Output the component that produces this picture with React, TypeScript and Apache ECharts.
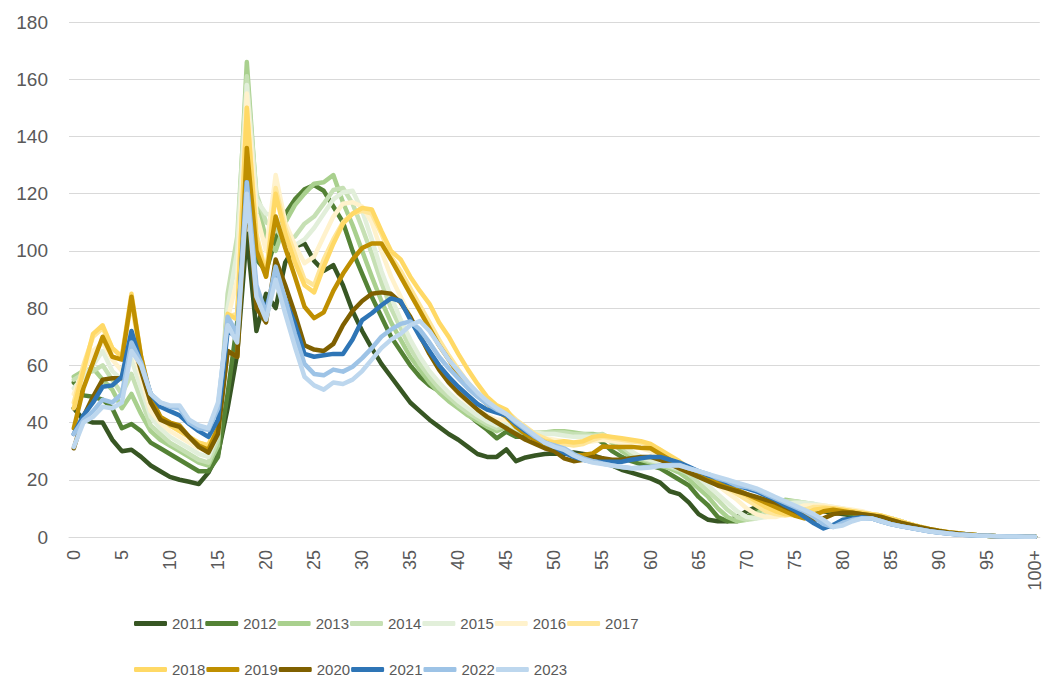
import React, { useEffect, useRef } from "react";
import * as echarts from "echarts";

const ages: string[] = [];
for (let i = 0; i < 100; i++) ages.push(String(i));
ages.push("100+");

const years = ["2011", "2012", "2013", "2014", "2015", "2016", "2017", "2018", "2019", "2020", "2021", "2022", "2023"];
const colors = ["#375623", "#548235", "#A9D08E", "#C6E0B4", "#E2EFDA", "#FFF2CC", "#FFE699", "#FFD966", "#BF8F00", "#7F6000", "#2E75B6", "#9DC3E6", "#BDD7EE"];

const yTicks = [0, 20, 40, 60, 80, 100, 120, 140, 160, 180];

const s2011 = [
  45, 41, 40, 40, 34, 30, 30.5, 28, 25, 23,
  21, 20, 19.3, 18.5, 22.5, 29, 45, 64, 106, 72,
  85, 80, 96, 101.5, 102.6, 96.5, 93, 95, 88, 79,
  72, 66, 60.5, 56, 51.5, 47, 44, 41, 38.5, 36,
  34, 31.5, 29, 28, 28, 30.6, 26.5, 27.8, 28.5, 29,
  29.2, 29, 29.5, 29, 28.5, 27.5, 25, 23.5, 22.5, 21.5,
  20.5, 19, 16, 15, 12, 8, 6, 5.5, 5.5, 7,
  9, 10.5, 11, 11, 10.5, 10.5, 10, 9.5, 9, 8.5,
  8, 7.5, 7.5, 7.2, 6.8, 6, 5, 4, 3.2, 2.5,
  2, 1.5, 1.1, 0.8, 0.6, 0.4, 0.3, 0.2, 0.15, 0.1, 0.1,
];
const s2012 = [
  54, 49.5, 49, 48, 45, 38, 39.5, 37, 33, 31,
  29, 27, 25, 23, 23, 28, 50, 75, 145, 97,
  93, 104, 113, 118, 121.5, 123, 121, 115.5, 110, 100,
  92, 84, 77, 70, 65, 60, 56, 53, 51, 48,
  45.5, 43, 40, 37.5, 34.5, 36.8, 35, 35, 35.5, 36,
  36.5, 36.5, 36, 35.5, 35, 33, 30, 28, 26.5, 25.5,
  25, 24, 22, 20, 18, 14, 11, 7, 5.5, 5.5,
  7, 9, 11, 12, 12, 11.5, 11, 10, 9.5, 9,
  8.5, 8, 7.5, 7.5, 7, 6.5, 5.5, 4.5, 3.5, 2.8,
  2.2, 1.6, 1.2, 0.9, 0.6, 0.4, 0.3, 0.2, 0.15, 0.1, 0.1,
];
const s2013 = [
  56, 58, 59, 55, 51.5, 45, 50, 43, 37, 34,
  32, 30, 28, 26, 25, 32, 82, 100, 166, 118,
  104, 100, 110, 116, 120, 123.5, 124, 126.5, 117, 109,
  100, 91, 82.5, 75, 69, 63, 58.5, 54, 50.5, 47.5,
  45, 42.5, 40.5, 38.5, 37, 38.5, 37, 36.5, 36, 36.5,
  37, 37, 36.5, 36, 36, 35.5, 33, 30, 28, 27,
  26, 25, 24, 22.5, 20, 17, 14, 10, 7, 5.5,
  6, 8, 10.5, 12, 13, 12.5, 12, 11, 10, 9.5,
  9, 8.5, 8, 7.5, 7, 6.5, 5.5, 4.5, 3.6, 2.8,
  2.2, 1.7, 1.3, 0.9, 0.6, 0.4, 0.3, 0.2, 0.15, 0.1, 0.1,
];
const s2014 = [
  55, 57, 58, 60, 55, 50, 57, 48, 39, 36,
  33, 31, 29, 27, 26, 34, 85, 105, 161, 120,
  110, 108, 103, 105, 109.5, 112, 116.5, 121.3, 122, 116.5,
  108, 99, 89, 80, 73, 66, 60.5, 56, 52, 49,
  46, 43.5, 41.5, 39.5, 38, 39, 37.5, 37, 36.5, 36.5,
  36.5, 36.5, 36, 36, 35.5, 36, 34, 31.5, 29, 27.5,
  26.5, 25.5, 24.5, 23.5, 22, 19, 16, 13, 9.5, 7,
  6, 6.5, 8.5, 11, 12.5, 12.5, 12, 11.5, 10.5, 10,
  9.5, 9, 8.5, 8, 7.5, 6.5, 5.5, 4.5, 3.6, 2.8,
  2.2, 1.7, 1.3, 0.9, 0.6, 0.4, 0.3, 0.2, 0.15, 0.1, 0.1,
];
const s2015 = [
  52, 56, 60, 65, 58, 55, 62, 52, 42, 38,
  35, 33, 31, 29, 28, 36, 80, 100, 158, 118,
  113, 112, 104, 102, 104, 108, 113, 118, 120.5, 121,
  114, 104, 93, 84, 76, 69, 63, 58, 54, 50.5,
  47.5, 45, 42.5, 40.5, 39, 40, 38, 37, 36.5, 36,
  36, 35.5, 35, 35, 35, 35.5, 34.5, 32.5, 30, 28,
  27, 26, 25, 24, 23, 21, 18, 15, 12, 9,
  7, 6.5, 7, 9, 11.5, 12, 12, 11.5, 11, 10.5,
  10, 9, 8.5, 8, 7.5, 6.5, 5.5, 4.5, 3.6, 2.8,
  2.2, 1.7, 1.3, 0.9, 0.6, 0.4, 0.3, 0.2, 0.15, 0.1, 0.1,
];
const s2016 = [
  50, 58, 65, 68, 62, 58, 68, 56, 44, 40,
  37, 35, 33, 31, 30, 38, 76, 90, 155, 113,
  100, 126.5, 110, 102, 95.7, 98, 105, 112, 116.5, 117,
  115.5, 110, 100, 91, 84, 77, 70, 64, 58.5, 54,
  50, 47, 44.5, 42.5, 41, 41, 39, 37, 35.5, 34.5,
  34, 33.5, 33, 33, 33.5, 34, 33.5, 33, 32, 31,
  30, 28, 26.5, 25, 23.5, 22, 20, 18, 15.5, 13,
  10, 8, 7, 7, 8, 10, 11, 11, 11, 10.5,
  10, 9.5, 9, 8, 7.5, 6.5, 5.5, 4.5, 3.6, 2.8,
  2.2, 1.7, 1.3, 0.9, 0.6, 0.4, 0.3, 0.2, 0.15, 0.1, 0.1,
];
const s2017 = [
  47, 60, 70, 73, 66, 63, 82, 62, 47, 42,
  39, 37, 35, 33, 32, 40, 77, 78, 150, 106,
  92, 122, 108, 99, 90, 88, 97, 104, 110, 113,
  114, 113, 106, 98, 93, 87, 81, 75, 69, 63.5,
  58.5, 54, 50, 47, 45, 44, 41, 38.5, 36, 34.5,
  33, 32.5, 32, 32.5, 34, 35, 34.5, 34, 33.5, 33,
  32, 30.5, 28, 26, 24, 22, 20.5, 19, 17, 15,
  13, 11, 9, 8, 7.5, 8, 9.5, 10.5, 10.5, 10,
  9.5, 9, 8.5, 8, 7.5, 6.5, 5.5, 4.5, 3.6, 2.8,
  2.2, 1.7, 1.3, 0.9, 0.6, 0.4, 0.3, 0.2, 0.15, 0.1, 0.1,
];
const s2018 = [
  45, 58, 71, 74, 66, 63, 85, 63, 48, 42,
  39, 37, 35, 33, 32, 40, 78, 76, 150, 104,
  91, 120, 106, 96, 88, 85.5, 94.5, 102.5, 109.5, 113,
  115, 114.5, 107, 100, 97, 91, 86, 81.5, 75, 70,
  64, 58.5, 53.5, 49, 46, 44.5, 40, 37.5, 35, 33.5,
  33, 33.5, 33, 33.5, 35, 35.5, 35, 34.5, 34, 33.5,
  32.5, 30.5, 28.5, 26.5, 24, 22, 21, 19.5, 18, 16,
  14.5, 12.5, 10.5, 9, 8, 7.5, 8, 9.5, 10, 10,
  9.5, 9, 8.5, 8, 7.5, 6.5, 5.5, 4.5, 3.6, 2.8,
  2.2, 1.7, 1.3, 0.9, 0.6, 0.4, 0.3, 0.2, 0.15, 0.1, 0.1,
];
const s2019 = [
  38, 52, 61, 70, 63, 62, 84, 63, 49, 42,
  40, 39, 35, 32, 30.5, 38, 65, 63, 136, 100,
  91, 112, 101, 91, 80.5, 76.5, 78.5, 86, 92, 97,
  101, 102.6, 102.6, 97, 91, 85, 79, 73, 67, 62,
  57, 53, 49.5, 46.5, 44, 42, 38.5, 36, 34, 32,
  31, 29.8, 28.5, 28.7, 29.2, 31.6, 31.5, 31.5, 31.5, 31.2,
  31, 29, 27, 25, 23, 21.5, 20, 19, 17.5, 16.5,
  15, 13.5, 12, 10.5, 9, 7.5, 6.5, 7.5, 9, 9.5,
  9, 8.5, 8, 7.5, 7, 6, 5, 4.2, 3.4, 2.7,
  2.1, 1.6, 1.2, 0.9, 0.6, 0.4, 0.3, 0.2, 0.15, 0.1, 0.1,
];
const s2020 = [
  31, 42, 49, 55, 55.5, 55.5, 70, 58, 47, 41,
  39.5, 38.5, 35, 31.5, 29.5, 36, 65, 63, 120, 80,
  75, 97, 88, 78, 67, 65.5, 65, 67.5, 74, 79,
  82.5, 85, 85.5, 85, 82, 77, 70.5, 64, 58.5, 54,
  50.5, 47.5, 44.5, 42, 40, 38, 36, 34, 32.5, 31,
  30, 27.5, 26.5, 27, 28, 27.5, 27, 27, 27.5, 28,
  28, 27, 25.5, 24, 22.5, 21, 19.5, 18, 17, 16,
  15, 14, 13, 12, 10.5, 9, 7.5, 6, 6.5, 8,
  8.5, 8.5, 8, 7.5, 7, 6, 5, 4.2, 3.4, 2.7,
  2.1, 1.6, 1.2, 0.9, 0.6, 0.4, 0.3, 0.2, 0.15, 0.1, 0.1,
];
const s2021 = [
  36, 42.5, 47, 52.5, 53, 56, 72, 60.5, 50, 45.5,
  44, 42.5, 39.5, 37, 35, 41, 72, 70, 124, 85,
  80, 91, 83, 74.5, 64, 63, 63.5, 64, 64, 69,
  75.8, 78.2, 81, 83.4, 82.5, 76, 70, 65, 60, 56,
  52.5, 49.5, 46.5, 44.5, 43.5, 42.5, 39.5, 37, 35, 33,
  31.5, 29.5, 28, 27, 26.3, 26.3, 26.3, 26.3, 27, 27.5,
  28, 28, 27, 26, 24.5, 23, 21.5, 20.5, 19, 18,
  17, 16, 14.5, 13, 11, 9.4, 7, 4.8, 3, 4.2,
  6, 6.5, 6.9, 6.5, 5.5, 4.5, 3.8, 3.2, 2.6, 2,
  1.6, 1.2, 0.9, 0.7, 0.5, 0.4, 0.3, 0.2, 0.15, 0.1, 0.1,
];
const s2022 = [
  36, 41, 44, 48, 47, 50, 68, 61, 50, 47,
  45.5, 45, 40, 38, 37.5, 45, 77, 71, 124, 88,
  78, 94.5, 83, 71, 60.5, 57, 56.5, 58.5, 57.8, 59.5,
  62.5, 66, 70, 72.5, 74.5, 75.3, 72.5, 68, 63, 59,
  55.5, 52, 49, 46.5, 44.5, 43, 40, 37.5, 35, 33,
  32, 31, 29, 27.5, 26.5, 25.7, 25, 24.5, 24, 24.3,
  24.6, 25, 25.2, 25.2, 24, 23, 22, 20.5, 19.5, 18,
  17.5, 16.5, 15, 13.5, 12, 10.5, 9, 7, 4.5, 3.5,
  5, 6, 6.5, 6.5, 5.5, 4.5, 3.8, 3.2, 2.6, 2,
  1.6, 1.2, 0.9, 0.7, 0.5, 0.4, 0.3, 0.2, 0.15, 0.1, 0.1,
];
const s2023 = [
  31.5, 40, 42, 45.5, 45, 47, 65, 60, 50, 47,
  46, 46, 41, 39, 38, 47, 74, 68, 120, 84,
  76, 90, 78, 66.5, 56, 53, 51.5, 54, 53.5, 55,
  58, 62, 66, 69, 71, 74, 75.5, 72, 67, 62,
  58, 54, 50.5, 47.5, 45, 43, 40.5, 38, 35.5, 33,
  31.5, 30.5, 28.5, 27, 26, 25.5, 25, 24.5, 24, 24,
  24.3, 24.8, 25, 25, 24, 23, 22, 21, 20, 19,
  18, 17, 15.5, 14, 12.5, 11, 9.5, 8, 6, 3.5,
  4, 5.5, 6.5, 6.5, 5.5, 4.5, 3.8, 3.2, 2.6, 2,
  1.6, 1.2, 0.9, 0.7, 0.5, 0.4, 0.3, 0.2, 0.15, 0.1, 0.1,
];

const seriesData = [s2011, s2012, s2013, s2014, s2015, s2016, s2017, s2018, s2019, s2020, s2021, s2022, s2023];

const AXIS_FONT = "'Liberation Sans', Arial, sans-serif";
const LEGEND_FONT = "'Liberation Sans', Arial, sans-serif";

export default function App() {
  const ref = useRef<HTMLDivElement>(null);
  useEffect(() => {
    if (!ref.current) return;
    const chart = echarts.init(ref.current, undefined, { renderer: "svg" });
    const legendBase = {
      left: 134,
      itemWidth: 33,
      itemHeight: 5,
      itemGap: 1,
      icon: "roundRect",
      padding: 0,
      textStyle: { fontSize: 15, color: "#595959", fontFamily: LEGEND_FONT },
    };
    chart.setOption({
      animation: false,
      backgroundColor: "#FFFFFF",
      color: colors,
      grid: { left: 69, right: 0, top: 22, bottom: 142, containLabel: false },
      legend: [
        { ...legendBase, top: 616, data: years.slice(0, 7) },
        { ...legendBase, top: 662, data: years.slice(7) },
      ],
      xAxis: {
        type: "category",
        data: ages,
        boundaryGap: true,
        axisLine: { show: true, lineStyle: { color: "#D9D9D9", width: 1 } },
        axisTick: { show: false },
        axisLabel: {
          interval: 4,
          rotate: 90,
          margin: 13,
          fontSize: 18,
          color: "#595959",
          fontFamily: AXIS_FONT,
        },
        splitLine: { show: false },
      },
      yAxis: {
        type: "value",
        min: yTicks[0],
        max: yTicks[yTicks.length - 1],
        interval: 20,
        axisLine: { show: false },
        axisTick: { show: false },
        axisLabel: { margin: 21, fontSize: 19, color: "#595959", fontFamily: AXIS_FONT },
        splitLine: { lineStyle: { color: "#D9D9D9", width: 1 } },
      },
      series: years.map((y, i) => ({
        name: y,
        type: "line",
        data: seriesData[i],
        showSymbol: false,
        symbol: "none",
        smooth: false,
        lineStyle: { width: 4.5, color: colors[i], cap: "round", join: "round" },
        itemStyle: { color: colors[i] },
        emphasis: { disabled: true },
      })),
    });
    return () => chart.dispose();
  }, []);
  return (
    <div
      ref={ref}
      style={{ position: "fixed", left: 0, top: 0, width: 1044, height: 679, background: "#fff" }}
    />
  );
}
